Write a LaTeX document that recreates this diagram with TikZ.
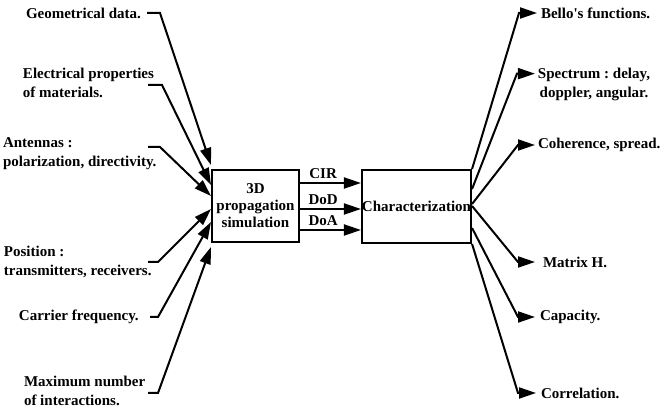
\documentclass[tikz,border=0pt]{standalone}
\usepackage{fontspec}
\setmainfont{Liberation Serif}
\usetikzlibrary{arrows.meta}
\frenchspacing

\begin{document}
\begin{tikzpicture}[x=1pt, y=1pt, line width=2pt, >={Triangle[length=17pt,width=11pt]},
  font=\fontsize{15}{19}\selectfont\bfseries,
  txt/.style={inner sep=0pt, anchor=west, align=left},
  block/.style={draw, inner sep=0pt, align=center}]
  \useasboundingbox (0,0) rectangle (667,409);

  \node[block, minimum width=87pt, minimum height=72pt,
        font=\fontsize{15}{17}\selectfont\bfseries] (Sim) at (255.5,203) {3D\\propagation\\simulation};
  \node[block, minimum width=109pt, minimum height=73pt] (Char) at (416.5,202.5) {Characterization};

  % inputs
  \node[txt] (Geo)   at (25,396)  {Geometrical data.};
  \node[txt] (Elec)  at (22,326.5) {Electrical properties\\ of materials.};
  \node[txt] (Ant)   at (2,255)   {Antennas :\\polarization, directivity.};
  \node[txt] (Pos)   at (3,147)   {Position :\\transmitters, receivers.};
  \node[txt] (Carr)  at (18,92)   {Carrier frequency.};
  \node[txt] (Maxi)  at (23,18)   {Maximum number\\of interactions.};

  \coordinate (GeoS)  at (147,396);
  \coordinate (ElecS) at (148,324);
  \coordinate (AntS)  at (148,262);
  \coordinate (PosS)  at (148,147);
  \coordinate (CarrS) at (150,92);
  \coordinate (MaxiS) at (148,16);

  \draw[->] (GeoS)  -- ++(13,0) -- ([yshift=4pt]Sim.north west);
  \draw[->] (ElecS) -- ++(14,0) -- ([yshift=-16pt]Sim.north west);
  \draw[->] (AntS)  -- ++(12,0) -- ([yshift=-27pt]Sim.north west);
  \draw[->] (PosS)  -- ++(10,0) -- ([yshift=-40pt]Sim.north west);
  \draw[->] (CarrS) -- ++(8,0)  -- ([yshift=-53pt]Sim.north west);
  \draw[->] (MaxiS) -- ++(10,0) -- ([yshift=-4pt]Sim.south west);

  % simulation -> characterization
  \draw[->] ([yshift=23pt]Sim.east) -- ([yshift=23pt]Sim.east -| Char.west)
    node[above=3pt, inner sep=0pt, pos=0.38] {CIR};
  \draw[->] ([yshift=-3pt]Sim.east) -- ([yshift=-3pt]Sim.east -| Char.west)
    node[above=3pt, inner sep=0pt, pos=0.38] {DoD};
  \draw[->] ([yshift=-24pt]Sim.east) -- ([yshift=-24pt]Sim.east -| Char.west)
    node[above=3pt, inner sep=0pt, pos=0.38] {DoA};

  % outputs
  \node[txt] (Bello) at (540,396) {Bello\textquotesingle s functions.};
  \node[inner sep=0pt, align=center] (Spec) at (594,325) {Spectrum : delay,\\doppler, angular.};
  \node[txt] (Coh)   at (537,264) {Coherence, spread.};
  \node[txt] (Matr)  at (542,147) {Matrix H.};
  \node[txt] (Capa)  at (539,92)  {Capacity.};
  \node[txt] (Corr)  at (540,16)  {Correlation.};

  \draw[->, shorten >=3pt] (Char.north east) -- ([xshift=-21pt]Bello.west) -- (Bello.west);
  \draw[->] ([yshift=-20pt]Char.north east) -- ([xshift=-20pt,yshift=-7pt]Spec.north west) -- ([xshift=-2pt,yshift=-7pt]Spec.north west);
  \draw[->, shorten >=2pt] ([yshift=-35pt]Char.north east) -- ([xshift=-19pt]Coh.west) -- (Coh.west);
  \draw[->, shorten >=7pt] ([yshift=-37pt]Char.north east) -- ([xshift=-24pt]Matr.west) -- (Matr.west);
  \draw[->, shorten >=4pt] ([yshift=16pt]Char.south east) -- ([xshift=-21pt]Capa.west) -- (Capa.west);
  \draw[->, shorten >=4pt] (Char.south east) -- ([xshift=-22pt]Corr.west) -- (Corr.west);
\end{tikzpicture}
\end{document}
